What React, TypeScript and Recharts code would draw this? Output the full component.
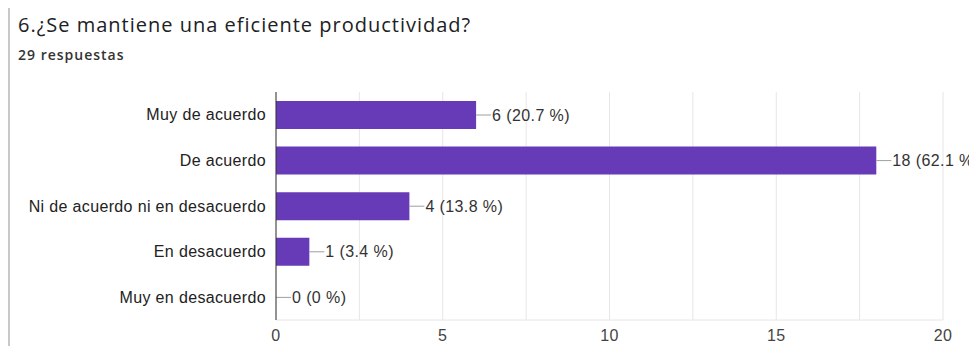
import { BarChart, Bar, XAxis, YAxis, CartesianGrid, Rectangle } from 'recharts'

// Respuestas del formulario (pregunta 6)
const categories = [
  'Muy de acuerdo',
  'De acuerdo',
  'Ni de acuerdo ni en desacuerdo',
  'En desacuerdo',
  'Muy en desacuerdo',
]
const counts = [6, 18, 4, 1, 0]
const totalResponses = 29
const xTicks = [0, 2.5, 5, 7.5, 10, 12.5, 15, 17.5, 20]

const data = categories.map((name, i) => ({ name, value: counts[i] }))

const FONT = '"Liberation Sans", Arial, sans-serif'

const formatPct = (v: number) => Number(((v / totalResponses) * 100).toFixed(1))

// barra + rayita gris + etiqueta (así también sale la del 0)
const BarWithLabel = (props: any) => {
  const { x, y, width, height, payload } = props
  const v = payload.value
  const x0 = Number(x) + Number(width)
  const cy = Number(y) + Number(height) / 2
  return (
    <g>
      {width > 0 && <Rectangle x={x} y={y} width={width} height={height} fill="#673ab7" />}
      <line x1={x0} y1={cy} x2={x0 + 15} y2={cy} stroke="#9e9e9e" strokeWidth={1} />
      <text
        x={x0 + 16}
        y={cy}
        dominantBaseline="central"
        fontSize={16}
        fontFamily={FONT}
        letterSpacing={0.4}
        fill="#333"
      >
        {`${v} (${formatPct(v)} %)`}
      </text>
    </g>
  )
}

export default function App() {
  return (
    <div
      style={{
        position: 'relative',
        width: 977,
        height: 354,
        margin: -8,
        overflow: 'hidden',
        background: '#fff',
      }}
    >
      {/* marco de la tarjeta */}
      <div
        style={{
          position: 'absolute',
          left: 8,
          top: 6,
          width: 1000,
          height: 400,
          borderLeft: '2px solid #c8c8c8',
          borderTop: '2px solid #c8c8c8',
        }}
      />
      <div
        style={{
          position: 'absolute',
          left: 18,
          top: 11,
          fontFamily: '"Open Sans", Arial, sans-serif',
          fontSize: 20,
          letterSpacing: 1,
          color: '#202124',
          whiteSpace: 'nowrap',
        }}
      >
        6.¿Se mantiene una eficiente productividad?
      </div>
      <div
        style={{
          position: 'absolute',
          left: 18,
          top: 45,
          fontFamily: '"Open Sans", Arial, sans-serif',
          fontSize: 14,
          fontWeight: 600,
          letterSpacing: 1,
          color: '#333',
        }}
      >
        {totalResponses} respuestas
      </div>

      <div style={{ position: 'absolute', left: 0, top: 0 }}>
        <BarChart
          width={977}
          height={354}
          data={data}
          layout="vertical"
          margin={{ top: 92, right: 34, bottom: 8, left: 0 }}
          barSize={28}
        >
          <CartesianGrid vertical horizontal={false} stroke="#e6e6e6" />
          <XAxis
            type="number"
            domain={[0, 20]}
            ticks={xTicks}
            interval={0}
            tickFormatter={(v: number) => (v % 5 === 0 ? String(v) : '')}
            axisLine={{ stroke: '#e6e6e6' }}
            tickLine={false}
            tickSize={0}
            tickMargin={10}
            height={26}
            tick={{ fontSize: 16, fill: '#444', fontFamily: FONT, letterSpacing: 0.4 }}
          />
          <XAxis
            xAxisId="top"
            type="number"
            orientation="top"
            domain={[0, 20]}
            tick={false}
            tickLine={false}
            height={0}
            axisLine={{ stroke: '#e6e6e6' }}
          />
          <YAxis
            type="category"
            dataKey="name"
            width={276}
            axisLine={{ stroke: '#333' }}
            tickLine={false}
            tickSize={0}
            tickMargin={10}
            interval={0}
            tick={{ fontSize: 16, fill: '#222', fontFamily: FONT, letterSpacing: 0.35 }}
          />
          <Bar dataKey="value" fill="#673ab7" isAnimationActive={false} shape={BarWithLabel} />
        </BarChart>
      </div>
    </div>
  )
}
